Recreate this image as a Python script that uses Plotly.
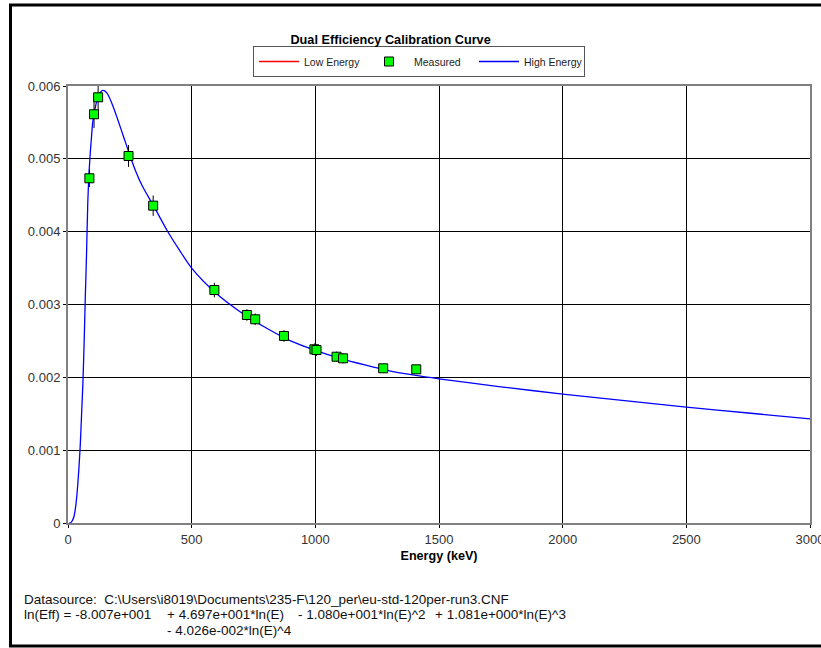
import plotly.graph_objects as go

# Measured calibration points
meas_energy = [86.5, 105.3, 121.8, 244.7, 344.3, 591.8, 723.3, 756.8, 873.2,
               996.3, 1004.8, 1085.8, 1112.1, 1274.4, 1408.0]
meas_eff = [0.004733, 0.005612, 0.005845, 0.005039, 0.004357, 0.003199, 0.002856,
            0.002797, 0.002568, 0.002385, 0.002375, 0.002283, 0.002261, 0.002124, 0.002110]
meas_err = [0.00012, 0.00019, 0.00022, 0.00015, 0.00014, 0.00010, 0.00008,
            0.00008, 0.00008, 0.00008, 0.00008, 0.00007, 0.00007, 0.00006, 0.00006]

# High energy fitted curve
curve_energy = [5, 10, 15, 20, 25, 30, 35, 40, 45, 50, 55, 60, 65, 70, 75, 80, 85, 90,
                95, 100, 110, 120, 130, 140, 150, 160, 180, 200, 225, 250, 275, 300,
                350, 400, 450, 500, 600, 700, 800, 900, 1000, 1100, 1200, 1300, 1400,
                1500, 1750, 2000, 2250, 2500, 2750, 3000]
curve_eff = [0.0, 0.000004, 0.00002, 0.00005, 0.0001, 0.0002, 0.00035, 0.00055,
             0.0008, 0.0011, 0.0015, 0.0019, 0.00245, 0.0031, 0.0037, 0.0044,
             0.0048, 0.00508, 0.0053, 0.0055, 0.0057, 0.00584, 0.00591, 0.00594,
             0.00593, 0.00589, 0.00574, 0.00555, 0.0053, 0.00505, 0.00482, 0.00463,
             0.00433, 0.00402, 0.00375, 0.0035, 0.00315, 0.00289, 0.00268, 0.0025,
             0.00237, 0.00226, 0.00217, 0.00209, 0.00203, 0.00198, 0.00187, 0.00177,
             0.00168, 0.00159, 0.00151, 0.00143]

x_ticks = [0, 500, 1000, 1500, 2000, 2500, 3000]
y_ticks = [0, 0.001, 0.002, 0.003, 0.004, 0.005, 0.006]
y_ticktext = ["0", "0.001", "0.002", "0.003", "0.004", "0.005", "0.006"]

title_text = "Dual Efficiency Calibration Curve"
x_title = "Energy (keV)"
datasource = "Datasource:  C:\\Users\\i8019\\Documents\\235-F\\120_per\\eu-std-120per-run3.CNF"
formula_terms = ["ln(Eff) = -8.007e+001", "+ 4.697e+001*ln(E)", "- 1.080e+001*ln(E)^2",
                 "+ 1.081e+000*ln(E)^3", "- 4.026e-002*ln(E)^4"]

FONT = "Liberation Sans, Arial, sans-serif"

fig = go.Figure()
fig.add_trace(go.Scatter(x=[None], y=[None], mode="lines", name="Low Energy",
                         line=dict(color="#ff0000", width=1.3), legendrank=1))
fig.add_trace(go.Scatter(x=curve_energy, y=curve_eff, mode="lines", name="High Energy",
                         line=dict(color="#0000ff", width=1.3, shape="spline", smoothing=0.8),
                         legendrank=3))
fig.add_trace(go.Scatter(x=meas_energy, y=meas_eff, mode="markers", name="Measured",
                         marker=dict(symbol="square", size=9, color="#00ff00",
                                     line=dict(color="#000000", width=1)),
                         error_y=dict(type="data", array=meas_err, color="#000000",
                                      thickness=1, width=0),
                         legendrank=2))

# Plot area: left 68, right 810, top 86, bottom 523
L, R, T, B = 68, 810, 86, 523
W, H = R - L, B - T


def px(xp):
    return (xp - L) / W


def py(yp):
    return (B - yp) / H


fig.update_layout(
    width=821, height=648,
    margin=dict(l=L, r=821 - R, t=T, b=648 - B, autoexpand=False),
    paper_bgcolor="white", plot_bgcolor="white",
    font=dict(family=FONT, size=12, color="#333333"),
    title=dict(text="<b>" + title_text + "</b>", x=px(421), xanchor="center",
               y=1 - 40 / 648, yanchor="middle",
               font=dict(family=FONT, size=12.7, color="#000000")),
    showlegend=True,
    legend=dict(orientation="h", x=px(419), xanchor="center", y=py(46), yanchor="top",
                bordercolor="#555555", borderwidth=1, bgcolor="white",
                font=dict(family=FONT, size=10.5, color="#222222"),
                entrywidth=55, entrywidthmode="pixels", itemwidth=40,
                traceorder="normal"),
    xaxis=dict(range=[0, 3000], tickvals=x_ticks, showgrid=True, gridcolor="#000000",
               gridwidth=1, showline=True, linecolor="#808080", linewidth=2, mirror=True,
               ticks="outside", ticklen=3, tickcolor="#000000", zeroline=False,
               ticklabeloverflow="allow", automargin=False,
               tickfont=dict(family=FONT, size=13, color="#333333"),
               title=dict(text="<b>" + x_title + "</b>", standoff=6,
                          font=dict(family=FONT, size=12.6, color="#000000"))),
    yaxis=dict(range=[0, 0.006], tickvals=y_ticks, ticktext=y_ticktext, showgrid=True,
               gridcolor="#000000", gridwidth=1, showline=True, linecolor="#808080",
               linewidth=2, mirror=True, ticks="outside", ticklen=3, tickcolor="#000000",
               zeroline=False, automargin=False,
               tickfont=dict(family=FONT, size=13, color="#333333")),
)

# Outer frame
fig.add_shape(type="rect", xref="paper", yref="paper",
              x0=px(10.5), x1=px(830), y0=py(646), y1=py(5),
              line=dict(color="#000000", width=3), layer="above")

# Footer text
FOOT = dict(family=FONT, size=13.5, color="#111111")
fig.add_annotation(text=datasource, xref="paper", yref="paper", x=px(22), y=py(599),
                   xanchor="left", yanchor="middle", showarrow=False, font=FOOT)
fig.add_annotation(text=formula_terms[0], xref="paper", yref="paper", x=px(22), y=py(614),
                   xanchor="left", yanchor="middle", showarrow=False, font=FOOT)
fig.add_annotation(text=formula_terms[1], xref="paper", yref="paper", x=px(165), y=py(614),
                   xanchor="left", yanchor="middle", showarrow=False, font=FOOT)
fig.add_annotation(text=formula_terms[2], xref="paper", yref="paper", x=px(296), y=py(614),
                   xanchor="left", yanchor="middle", showarrow=False, font=FOOT)
fig.add_annotation(text=formula_terms[3], xref="paper", yref="paper", x=px(568), y=py(614),
                   xanchor="right", yanchor="middle", showarrow=False, font=FOOT)
fig.add_annotation(text=formula_terms[4], xref="paper", yref="paper", x=px(165), y=py(630),
                   xanchor="left", yanchor="middle", showarrow=False, font=FOOT)

fig.write_html("out.html", config={"displayModeBar": False},
               post_script="document.body.style.margin='0';")
